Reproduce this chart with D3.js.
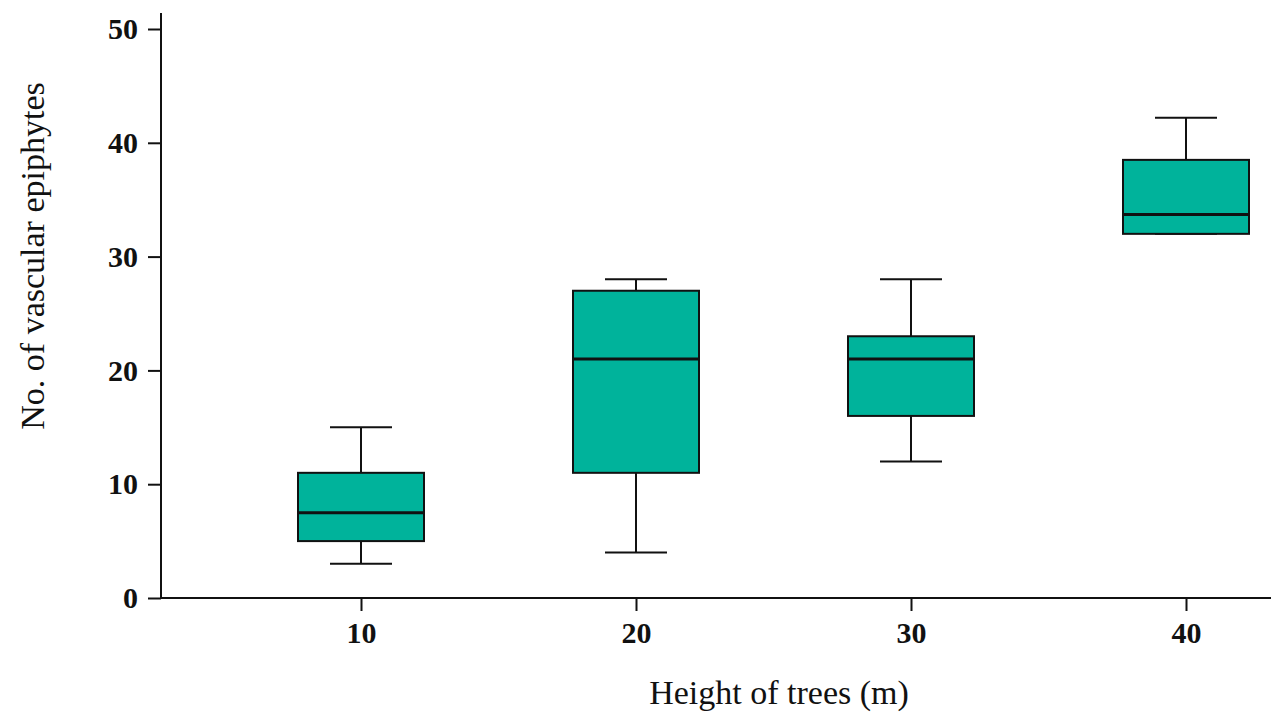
<!DOCTYPE html>
<html><head><meta charset="utf-8">
<script src="https://cdn.jsdelivr.net/npm/d3@7"></script>
<style>body{margin:0;background:#fff}</style>
</head><body><svg id="c" width="1273" height="713"></svg>
<script>
const categories = ["10","20","30","40"];
const whiskerLow = [3, 4, 12, 32];
const q1 = [5, 11, 16, 32];
const median = [7.5, 21, 21, 33.7];
const q3 = [11, 27, 23, 38.5];
const whiskerHigh = [15, 28, 28, 42.2];
const yTicks = [0,10,20,30,40,50];

const svg = d3.select("#c");
const y = d3.scaleLinear().domain([0,50]).range([598,29]);
const x = d3.scalePoint().domain(categories).range([361,1186]);
const boxW = 126, capW = 62;
const serif = "'Liberation Serif','Times New Roman',serif";

// axes
const yAx = svg.append("g").attr("transform","translate(161,0)")
  .call(d3.axisLeft(y).tickValues(yTicks).tickSize(13).tickPadding(10).tickSizeOuter(0));
yAx.select(".domain").remove();
svg.append("line").attr("x1",161).attr("x2",161).attr("y1",13).attr("y2",599).attr("stroke","#111").attr("stroke-width",2);
const xAx = svg.append("g").attr("transform","translate(0,598)")
  .call(d3.axisBottom(x).tickSize(13).tickPadding(11));
xAx.select(".domain").remove();
svg.append("line").attr("x1",160).attr("x2",1271).attr("y1",598).attr("y2",598).attr("stroke","#111").attr("stroke-width",2);
[yAx,xAx].forEach(g=>{
  g.selectAll(".tick line").attr("stroke","#111").attr("stroke-width",2);
  g.selectAll(".tick text").attr("fill","#111").style("font-family",serif)
   .style("font-size","30px").style("font-weight","bold");
});

const data = categories.map((c,i)=>({c, lo:whiskerLow[i], q1:q1[i], med:median[i], q3:q3[i], hi:whiskerHigh[i]}));
const g = svg.append("g").selectAll("g").data(data).join("g");
g.append("line").attr("x1",d=>x(d.c)).attr("x2",d=>x(d.c)).attr("y1",d=>y(d.lo)).attr("y2",d=>y(d.hi)).attr("stroke","#111").attr("stroke-width",2);
g.append("line").attr("x1",d=>x(d.c)-capW/2).attr("x2",d=>x(d.c)+capW/2).attr("y1",d=>y(d.lo)).attr("y2",d=>y(d.lo)).attr("stroke","#111").attr("stroke-width",2);
g.append("line").attr("x1",d=>x(d.c)-capW/2).attr("x2",d=>x(d.c)+capW/2).attr("y1",d=>y(d.hi)).attr("y2",d=>y(d.hi)).attr("stroke","#111").attr("stroke-width",2);
g.append("rect").attr("x",d=>x(d.c)-boxW/2).attr("width",boxW).attr("y",d=>y(d.q3)).attr("height",d=>y(d.q1)-y(d.q3))
  .attr("fill","#00b39b").attr("stroke","#111").attr("stroke-width",2);
g.append("line").attr("x1",d=>x(d.c)-boxW/2).attr("x2",d=>x(d.c)+boxW/2).attr("y1",d=>y(d.med)).attr("y2",d=>y(d.med)).attr("stroke","#111").attr("stroke-width",3);

svg.append("text").attr("x",779).attr("y",704).attr("text-anchor","middle")
  .style("font-family",serif).style("font-size","34px").attr("fill","#111")
  .text("Height of trees (m)");
svg.append("text").attr("transform","translate(44,256) rotate(-90)").attr("text-anchor","middle")
  .style("font-family",serif).style("font-size","34px").attr("fill","#111")
  .text("No. of vascular epiphytes");
</script></body></html>
